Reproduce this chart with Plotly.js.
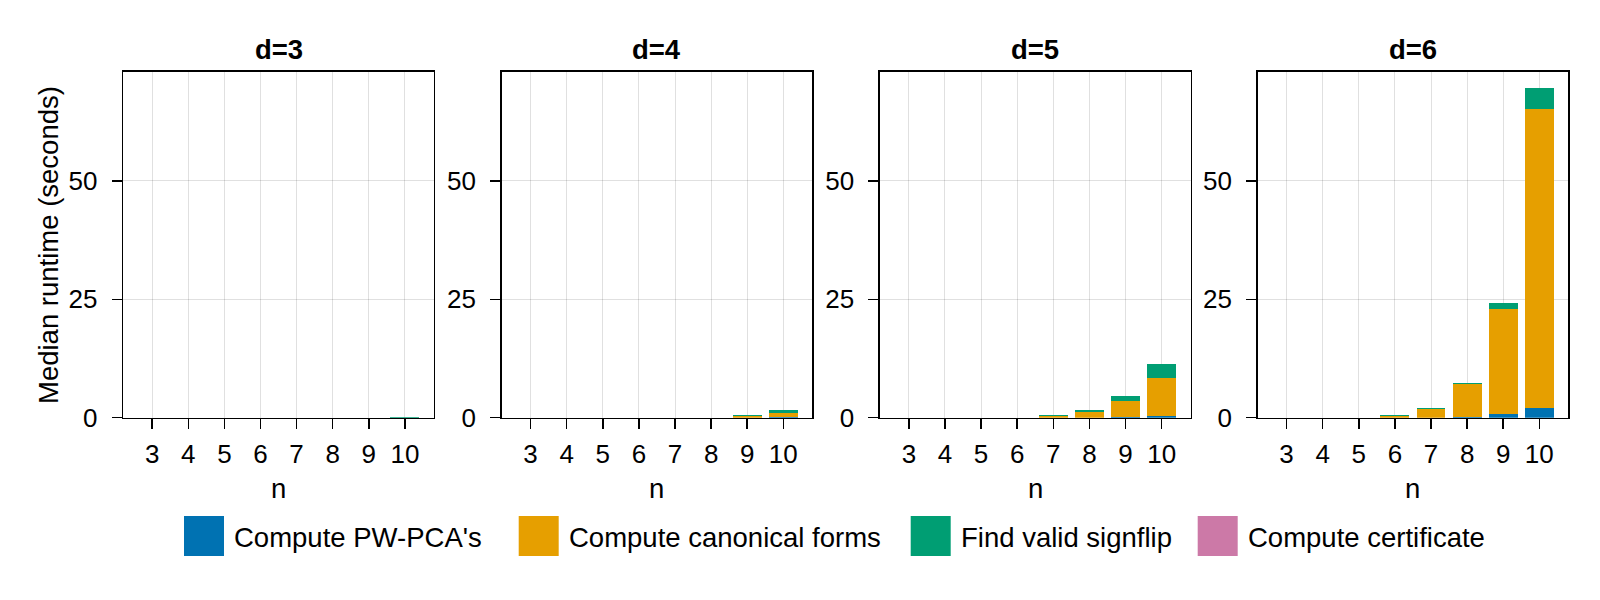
<!DOCTYPE html>
<html>
<head>
<meta charset="utf-8">
<script src="https://cdn.plot.ly/plotly-3.0.1.min.js"></script>
<style>html,body{margin:0;padding:0;background:#fff;}#chart{width:1600px;height:600px;}</style>
</head>
<body>
<div id="chart"></div>
<script>
// ---- data ----
const nValues = [3, 4, 5, 6, 7, 8, 9, 10];
const panelTitles = ["d=3", "d=4", "d=5", "d=6"];
const stageNames = ["Compute PW-PCA's", "Compute canonical forms", "Find valid signflip", "Compute certificate"];
const stageColors = ["#0072B2", "#E69F00", "#009E73", "#CC79A7"];
const yTickVals = [0, 25, 50];

// d=3
const pca_d3       = [0, 0, 0, 0, 0, 0, 0.00, 0.00];
const canonical_d3 = [0, 0, 0, 0, 0, 0, 0.01, 0.02];
const signflip_d3  = [0, 0, 0, 0, 0, 0, 0.01, 0.22];
const cert_d3      = [0, 0, 0, 0, 0, 0, 0.00, 0.01];
// d=4
const pca_d4       = [0, 0, 0, 0, 0, 0, 0.01, 0.05];
const canonical_d4 = [0, 0, 0, 0, 0.01, 0.03, 0.40, 0.85];
const signflip_d4  = [0, 0, 0, 0, 0.00, 0.01, 0.20, 0.78];
const cert_d4      = [0, 0, 0, 0, 0, 0, 0.01, 0.02];
// d=5
const pca_d5       = [0, 0, 0, 0.00, 0.01, 0.03, 0.10, 0.43];
const canonical_d5 = [0, 0, 0, 0.03, 0.40, 1.25, 3.36, 8.00];
const signflip_d5  = [0, 0, 0, 0.01, 0.08, 0.27, 1.20, 2.90];
const cert_d5      = [0, 0, 0, 0, 0.00, 0.01, 0.02, 0.05];
// d=6
const pca_d6       = [0, 0, 0.00, 0.01, 0.03, 0.10, 0.78, 2.00];
const canonical_d6 = [0, 0, 0.02, 0.45, 1.80, 6.95, 22.25, 63.15];
const signflip_d6  = [0, 0, 0.00, 0.04, 0.25, 0.35, 1.14, 4.45];
const cert_d6      = [0, 0, 0, 0, 0.01, 0.02, 0.05, 0.10];

const panelData = [
  [pca_d3, canonical_d3, signflip_d3, cert_d3],
  [pca_d4, canonical_d4, signflip_d4, cert_d4],
  [pca_d5, canonical_d5, signflip_d5, cert_d5],
  [pca_d6, canonical_d6, signflip_d6, cert_d6]
];

// ---- layout geometry (pixels) ----
const W = 1600, H = 600;
const panelLeft = [123.3, 501.7, 880.0, 1257.7];
const panelWidth = 310.5;
const plotTop = 72, plotBottom = 417.7;
const FONT = "Liberation Sans, Arial, Helvetica, sans-serif";
const TICK_SIZE = 26, TEXT_SIZE = 27.5;

const traces = [];
const layout = {
  width: W, height: H,
  margin: {l: 0, r: 0, t: 0, b: 0},
  paper_bgcolor: "#fff", plot_bgcolor: "#fff",
  barmode: "stack", bargap: 0.2,
  showlegend: false,
  font: {family: FONT, size: TEXT_SIZE, color: "#000"},
  annotations: [], shapes: []
};

panelData.forEach((series, p) => {
  const ax = p === 0 ? "" : String(p + 1);
  series.forEach((vals, s) => {
    traces.push({
      type: "bar", x: nValues, y: vals, name: stageNames[s],
      marker: {color: stageColors[s], line: {width: 0}},
      xaxis: "x" + ax, yaxis: "y" + ax, showlegend: false,
      hovertemplate: stageNames[s] + ": %{y}<extra>" + panelTitles[p] + "</extra>"
    });
  });
  const x0 = panelLeft[p] / W, x1 = (panelLeft[p] + panelWidth) / W;
  layout["xaxis" + ax] = {
    domain: [x0, x1], anchor: "y" + ax, range: [2.2, 10.8],
    tickmode: "array", tickvals: nValues, ticktext: nValues.map(String),
    ticks: "outside", ticklen: 10, tickwidth: 1.5, tickcolor: "#000",
    ticklabelstandoff: 2,
    showline: true, linewidth: 1.6, linecolor: "#000", mirror: true,
    showgrid: true, gridcolor: "rgba(0,0,0,0.12)", gridwidth: 1,
    zeroline: false, automargin: false,
    tickfont: {family: FONT, size: TICK_SIZE, color: "#000"}
  };
  layout["yaxis" + ax] = {
    domain: [(H - plotBottom) / H, (H - plotTop) / H], anchor: "x" + ax,
    range: [0, 73], tickmode: "array", tickvals: yTickVals,
    ticks: "outside", ticklen: 10, tickwidth: 1.5, tickcolor: "#000",
    ticklabelstandoff: 9,
    showline: true, linewidth: 1.6, linecolor: "#000", mirror: true,
    showgrid: true, gridcolor: "rgba(0,0,0,0.12)", gridwidth: 1,
    zeroline: false, automargin: false,
    tickfont: {family: FONT, size: TICK_SIZE, color: "#000"}
  };
  // panel title
  layout.annotations.push({
    text: "<b>" + panelTitles[p] + "</b>", xref: "paper", yref: "paper",
    x: (x0 + x1) / 2, y: (H - 49) / H, xanchor: "center", yanchor: "middle",
    showarrow: false, font: {family: FONT, size: TEXT_SIZE, color: "#000"}
  });
  // x axis label
  layout.annotations.push({
    text: "n", xref: "paper", yref: "paper",
    x: (x0 + x1) / 2, y: (H - 489) / H, xanchor: "center", yanchor: "middle",
    showarrow: false, font: {family: FONT, size: TEXT_SIZE, color: "#000"}
  });
});

// y axis title
layout.annotations.push({
  text: "Median runtime (seconds)", xref: "paper", yref: "paper",
  x: 48 / W, y: (H - 245) / H, xanchor: "center", yanchor: "middle",
  textangle: -90, showarrow: false, font: {family: FONT, size: TEXT_SIZE, color: "#000"}
});

// custom legend with large swatches
const legendSwatchX = [184, 518.7, 910.7, 1197.7];
const swatchSize = 40, legendCy = 536;
stageNames.forEach((name, i) => {
  layout.shapes.push({
    type: "rect", xref: "paper", yref: "paper",
    x0: legendSwatchX[i] / W, x1: (legendSwatchX[i] + swatchSize) / W,
    y0: (H - legendCy - swatchSize / 2) / H, y1: (H - legendCy + swatchSize / 2) / H,
    fillcolor: stageColors[i], line: {width: 0}
  });
  layout.annotations.push({
    text: name, xref: "paper", yref: "paper",
    x: (legendSwatchX[i] + swatchSize + 8) / W, y: (H - 537) / H,
    xanchor: "left", yanchor: "middle", showarrow: false,
    font: {family: FONT, size: TEXT_SIZE, color: "#000"}
  });
});

Plotly.newPlot("chart", traces, layout, {staticPlot: true, displayModeBar: false});
</script>
</body>
</html>
